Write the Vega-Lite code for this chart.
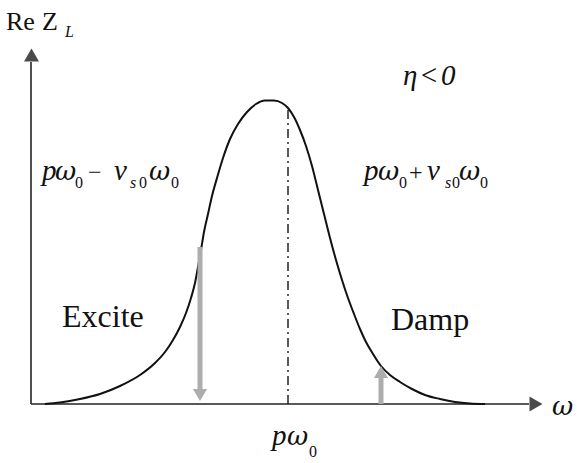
{
  "$schema": "https://vega.github.io/schema/vega-lite/v6.json",
  "width": 582,
  "height": 463,
  "padding": 0,
  "autosize": {"type": "fit", "contains": "padding"},
  "background": "white",
  "config": {"view": {"stroke": null}},
  "datasets": {
    "curve": [
      {"w": 14, "z": 0}, {"w": 29, "z": 1.5}, {"w": 49, "z": 5}, {"w": 69, "z": 10},
      {"w": 89, "z": 18}, {"w": 109, "z": 29}, {"w": 124, "z": 41}, {"w": 134, "z": 52},
      {"w": 142, "z": 64}, {"w": 149, "z": 77}, {"w": 155, "z": 91}, {"w": 160, "z": 106},
      {"w": 164, "z": 121}, {"w": 167, "z": 137}, {"w": 170, "z": 154}, {"w": 173, "z": 172},
      {"w": 177, "z": 190}, {"w": 181, "z": 208}, {"w": 186, "z": 226}, {"w": 192, "z": 246},
      {"w": 199, "z": 265}, {"w": 207, "z": 280}, {"w": 216, "z": 292}, {"w": 225, "z": 300},
      {"w": 234, "z": 303.5}, {"w": 243, "z": 303.5}, {"w": 251, "z": 301}, {"w": 257, "z": 296},
      {"w": 263, "z": 287}, {"w": 269, "z": 274}, {"w": 275, "z": 258}, {"w": 281, "z": 238},
      {"w": 287, "z": 214}, {"w": 293, "z": 190}, {"w": 299, "z": 166}, {"w": 305, "z": 144},
      {"w": 311, "z": 124}, {"w": 317, "z": 106}, {"w": 323, "z": 90}, {"w": 329, "z": 75},
      {"w": 335, "z": 62}, {"w": 342, "z": 50}, {"w": 350, "z": 38}, {"w": 359, "z": 29},
      {"w": 369, "z": 22}, {"w": 381, "z": 15}, {"w": 394, "z": 9}, {"w": 409, "z": 5},
      {"w": 424, "z": 2}, {"w": 439, "z": 0.5}, {"w": 454, "z": 0}
    ]
  },
  "encoding": {
    "x": {"type": "quantitative", "scale": {"domain": [-31, 551], "nice": false, "zero": false}, "axis": null},
    "y": {"type": "quantitative", "scale": {"domain": [-59, 404], "nice": false, "zero": false}, "axis": null}
  },
  "layer": [
    {
      "data": {"values": [{"w": 0, "z": 0, "z2": 342}]},
      "mark": {"type": "rule", "color": "#222", "strokeWidth": 1.6},
      "encoding": {"x": {"field": "w"}, "y": {"field": "z"}, "y2": {"field": "z2"}}
    },
    {
      "data": {"values": [{"w": 0, "w2": 498, "z": 0}]},
      "mark": {"type": "rule", "color": "#222", "strokeWidth": 1.6},
      "encoding": {"x": {"field": "w"}, "x2": {"field": "w2"}, "y": {"field": "z"}}
    },
    {
      "data": {"values": [{"w": 0.5, "z": 349}]},
      "mark": {"type": "point", "shape": "triangle-up", "filled": true, "color": "#4a4a4a", "size": 225, "opacity": 1},
      "encoding": {"x": {"field": "w"}, "y": {"field": "z"}}
    },
    {
      "data": {"values": [{"w": 505, "z": 0}]},
      "mark": {"type": "point", "shape": "triangle-right", "filled": true, "color": "#4a4a4a", "size": 225, "opacity": 1},
      "encoding": {"x": {"field": "w"}, "y": {"field": "z"}}
    },
    {
      "data": {"values": [{"w": 257, "z": 0, "z2": 296}]},
      "mark": {"type": "rule", "color": "#222", "strokeWidth": 1.5, "strokeDash": [9, 4, 2, 4]},
      "encoding": {"x": {"field": "w"}, "y": {"field": "z"}, "y2": {"field": "z2"}}
    },
    {
      "data": {"name": "curve"},
      "mark": {"type": "line", "color": "#111", "strokeWidth": 2, "interpolate": "monotone"},
      "encoding": {"x": {"field": "w"}, "y": {"field": "z"}}
    },
    {
      "data": {"values": [{"w": 169, "z": 157, "z2": 14}, {"w": 350, "z": 0, "z2": 26}]},
      "mark": {"type": "rule", "color": "#adadad", "strokeWidth": 5},
      "encoding": {"x": {"field": "w"}, "y": {"field": "z"}, "y2": {"field": "z2"}}
    },
    {
      "data": {"values": [{"w": 169, "z": 9}]},
      "mark": {"type": "point", "shape": "triangle-down", "filled": true, "color": "#adadad", "size": 200, "opacity": 1},
      "encoding": {"x": {"field": "w"}, "y": {"field": "z"}}
    },
    {
      "data": {"values": [{"w": 350, "z": 32}]},
      "mark": {"type": "point", "shape": "triangle-up", "filled": true, "color": "#adadad", "size": 200, "opacity": 1},
      "encoding": {"x": {"field": "w"}, "y": {"field": "z"}}
    },
    {
      "data": {"values": [{"w": -25, "z": 374, "t": "Re"}, {"w": 11, "z": 374, "t": "Z"}]},
      "mark": {"type": "text", "font": "Liberation Serif", "fontSize": 26, "align": "left", "baseline": "alphabetic", "color": "#111"},
      "encoding": {"x": {"field": "w"}, "y": {"field": "z"}, "text": {"field": "t"}}
    },
    {
      "data": {"values": [{"w": 31, "z": 77, "t": "Excite"}, {"w": 360, "z": 74, "t": "Damp"}]},
      "mark": {"type": "text", "font": "Liberation Serif", "fontSize": 32, "align": "left", "baseline": "alphabetic", "color": "#111"},
      "encoding": {"x": {"field": "w"}, "y": {"field": "z"}, "text": {"field": "t"}}
    },
    {
      "data": {"values": [
        {"w": 11, "z": 224, "t": "p"}, {"w": 83, "z": 224, "t": "ν"},
        {"w": 333, "z": 224, "t": "p"}, {"w": 396, "z": 224, "t": "ν"},
        {"w": 241, "z": -41, "t": "p"},
        {"w": 372, "z": 319, "t": "η"}, {"w": 388, "z": 319, "t": "<"}, {"w": 410, "z": 319, "t": "0"}
      ]},
      "mark": {"type": "text", "font": "Liberation Serif", "fontSize": 29, "fontStyle": "italic", "align": "left", "baseline": "alphabetic", "color": "#111"},
      "encoding": {"x": {"field": "w"}, "y": {"field": "z"}, "text": {"field": "t"}}
    },
    {
      "data": {"values": [
        {"w": 24, "z": 224, "t": "ω"}, {"w": 118, "z": 224, "t": "ω"},
        {"w": 347, "z": 224, "t": "ω"}, {"w": 428, "z": 224, "t": "ω"},
        {"w": 256, "z": -41, "t": "ω"}, {"w": 521, "z": -11, "t": "ω"}
      ]},
      "mark": {"type": "text", "font": "DejaVu Serif", "fontSize": 26, "fontStyle": "italic", "align": "left", "baseline": "alphabetic", "color": "#111"},
      "encoding": {"x": {"field": "w"}, "y": {"field": "z"}, "text": {"field": "t"}}
    },
    {
      "data": {"values": [{"w": 57, "z": 224, "t": "−"}, {"w": 378, "z": 224, "t": "+"}]},
      "mark": {"type": "text", "font": "Liberation Serif", "fontSize": 24, "align": "left", "baseline": "alphabetic", "color": "#111"},
      "encoding": {"x": {"field": "w"}, "y": {"field": "z"}, "text": {"field": "t"}}
    },
    {
      "data": {"values": [
        {"w": 44, "z": 216, "t": "0"}, {"w": 108, "z": 216, "t": "0"}, {"w": 140, "z": 216, "t": "0"},
        {"w": 368, "z": 216, "t": "0"}, {"w": 421, "z": 216, "t": "0"}, {"w": 449, "z": 216, "t": "0"},
        {"w": 278, "z": -53, "t": "0"}
      ]},
      "mark": {"type": "text", "font": "Liberation Serif", "fontSize": 16, "align": "left", "baseline": "alphabetic", "color": "#111"},
      "encoding": {"x": {"field": "w"}, "y": {"field": "z"}, "text": {"field": "t"}}
    },
    {
      "data": {"values": [{"w": 99, "z": 216, "t": "s"}, {"w": 414, "z": 216, "t": "s"}, {"w": 34, "z": 367, "t": "L"}]},
      "mark": {"type": "text", "font": "Liberation Serif", "fontSize": 16, "fontStyle": "italic", "align": "left", "baseline": "alphabetic", "color": "#111"},
      "encoding": {"x": {"field": "w"}, "y": {"field": "z"}, "text": {"field": "t"}}
    }
  ]
}
